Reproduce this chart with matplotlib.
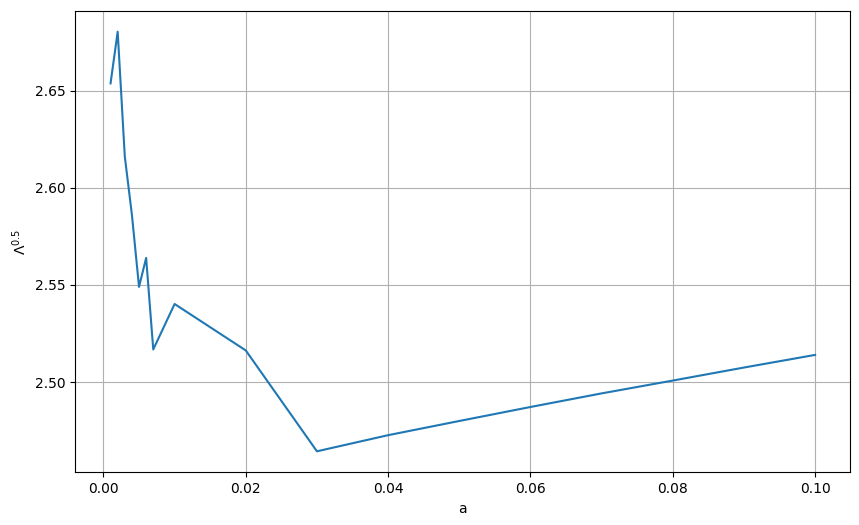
import matplotlib
matplotlib.use("Agg")
import matplotlib.pyplot as plt

a_values = [0.001, 0.002, 0.003, 0.004, 0.005, 0.006, 0.007, 0.01,
            0.02, 0.03, 0.04, 0.05, 0.06, 0.07, 0.08, 0.09, 0.1]
lambda_sqrt = [2.6537, 2.6803, 2.6161, 2.5861, 2.5490, 2.5639, 2.5168, 2.5402,
               2.5163, 2.4644, 2.4727, 2.4800, 2.4872, 2.4942, 2.5008, 2.5075, 2.5140]

fig = plt.figure(figsize=(8.59, 5.25), dpi=100)
ax = fig.add_subplot(111)
fig.subplots_adjust(left=0.0877, right=0.9899, top=0.9796, bottom=0.1004)

ax.plot(a_values, lambda_sqrt)
ax.set_xlabel("a")
ax.set_ylabel(r"$\Lambda^{0.5}$")
ax.grid(True)

fig.savefig("out.png", dpi=100)
plt.close(fig)
